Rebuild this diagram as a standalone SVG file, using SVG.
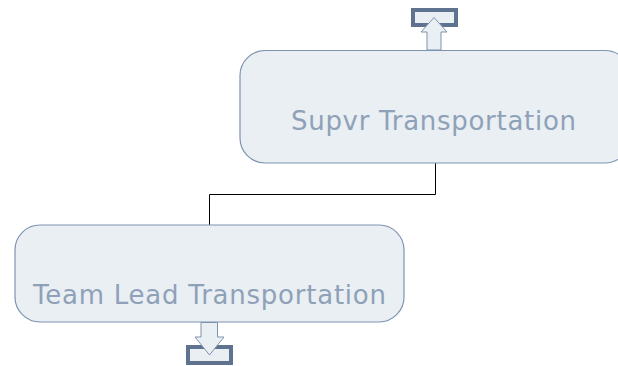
<svg xmlns="http://www.w3.org/2000/svg" width="618" height="366" viewBox="0 0 618 366">
<style>
.node{fill:#e9eff2;stroke:#7f93b0;stroke-width:1.2}
.lbl{font-family:"DejaVu Sans",sans-serif;font-size:26px;fill:#8fa1b8;text-anchor:middle}
.box{fill:#e9eff2;stroke:#5f7391;stroke-width:4}
.arr{fill:#e9eff2;stroke:#7f93b0;stroke-width:1}
.conn{fill:none;stroke:#000;stroke-width:1}
</style>
<rect width="618" height="366" fill="#fff"/>
<g id="connectors">
<path class="conn" d="M435.5 163V194.5H209.5V225"/>
</g>
<g id="supvr">
<rect class="node" x="240" y="50.5" width="390" height="112.5" rx="25"/>
<text class="lbl" x="433.5" y="130" textLength="285" lengthAdjust="spacing">Supvr Transportation</text>
</g>
<g id="teamlead">
<rect class="node" x="15" y="225" width="389" height="97" rx="25"/>
<text class="lbl" x="209.5" y="304" textLength="353" lengthAdjust="spacing">Team Lead Transportation</text>
</g>
<g id="top-icon">
<rect class="box" x="413" y="10" width="43" height="15"/>
<path class="arr" d="M427 50V32H421L434 17.5L447 32H441V50Z"/>
</g>
<g id="bottom-icon">
<rect class="box" x="188" y="347" width="43" height="16"/>
<path class="arr" d="M201 322.5V337H195L209.5 355L224 337H217.5V322.5Z"/>
</g>
</svg>
